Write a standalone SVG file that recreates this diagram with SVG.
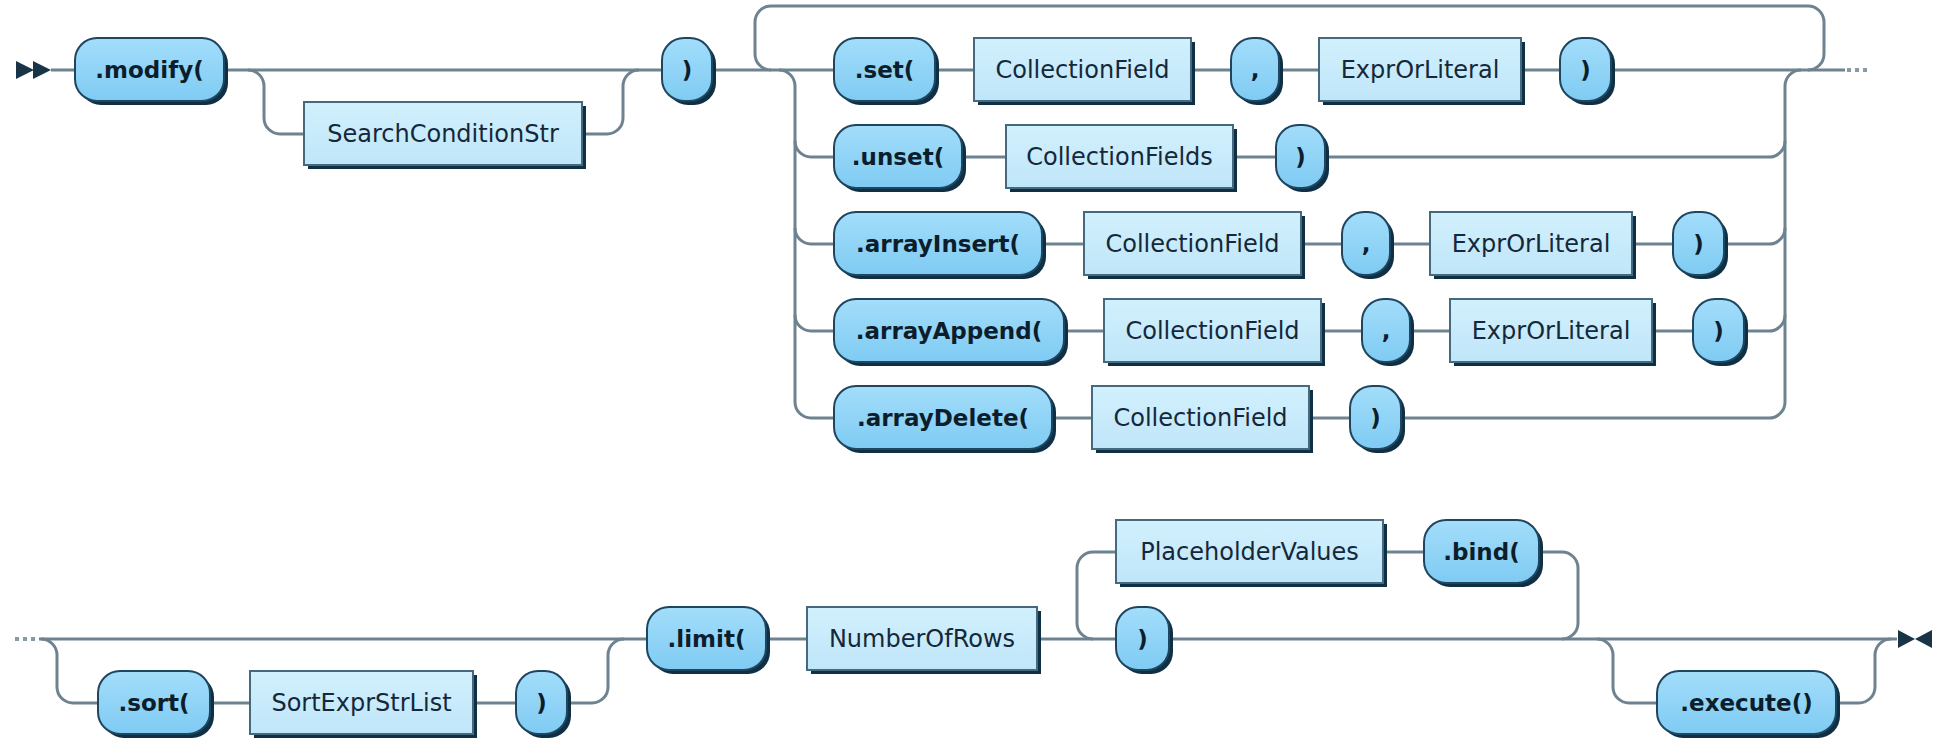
<svg xmlns="http://www.w3.org/2000/svg" width="1934" height="741" viewBox="0 0 1934 741">
<defs>
<linearGradient id="tg" x1="0" y1="0" x2="0" y2="1">
<stop offset="0" stop-color="#A3DDFA"/>
<stop offset="1" stop-color="#7FCBF3"/>
</linearGradient>
<linearGradient id="ng" x1="0" y1="0" x2="0" y2="1">
<stop offset="0" stop-color="#D2F0FD"/>
<stop offset="1" stop-color="#BFE6F9"/>
</linearGradient>
</defs>
<style>
.c{fill:none;stroke:#6D838F;stroke-width:3}
.ts{fill:#0F2F45}
.t{fill:url(#tg);stroke:#1E4660;stroke-width:2}
.n{fill:url(#ng);stroke:#45697D;stroke-width:2}
.tt{font-family:"DejaVu Sans",Verdana,sans-serif;font-size:23px;font-weight:bold;fill:#0C1E2C;text-anchor:middle}
.nt{font-family:"DejaVu Sans",Verdana,sans-serif;font-size:24px;fill:#14283A;text-anchor:middle}
.dot{fill:#8A9AA4}
.mk{fill:#1A3447}
</style>
<g id="connectors">
<path class="c" d="M51,70 H1845"/>
<path class="c" d="M248,70 A16,16 0 0 1 264,86 V118 A16,16 0 0 0 280,134 H607 A16,16 0 0 0 623,118 V86 A16,16 0 0 1 639,70"/>
<path class="c" d="M771,70 A16,16 0 0 1 755,54 V22 A16,16 0 0 1 771,6 H1808 A16,16 0 0 1 1824,22 V54 A16,16 0 0 1 1808,70"/>
<path class="c" d="M779,70 A16,16 0 0 1 795,86 V402 A16,16 0 0 0 811,418 H1769 A16,16 0 0 0 1785,402 V86 A16,16 0 0 1 1801,70"/>
<path class="c" d="M795,141 A16,16 0 0 0 811,157 H1769 A16,16 0 0 0 1785,141"/>
<path class="c" d="M795,228 A16,16 0 0 0 811,244 H1769 A16,16 0 0 0 1785,228"/>
<path class="c" d="M795,315 A16,16 0 0 0 811,331 H1769 A16,16 0 0 0 1785,315"/>
<path class="c" d="M39,639 H1897"/>
<path class="c" d="M41,639 A16,16 0 0 1 57,655 V687 A16,16 0 0 0 73,703 H592 A16,16 0 0 0 608,687 V655 A16,16 0 0 1 624,639"/>
<path class="c" d="M1093,639 A16,16 0 0 1 1077,623 V568 A16,16 0 0 1 1093,552 H1562 A16,16 0 0 1 1578,568 V623 A16,16 0 0 1 1562,639"/>
<path class="c" d="M1597,639 A16,16 0 0 1 1613,655 V687 A16,16 0 0 0 1629,703 H1859 A16,16 0 0 0 1875,687 V655 A16,16 0 0 1 1891,639"/>
<rect class="dot" x="1847" y="68" width="4" height="4"/>
<rect class="dot" x="1855" y="68" width="4" height="4"/>
<rect class="dot" x="1863" y="68" width="4" height="4"/>
<rect class="dot" x="15" y="637" width="4" height="4"/>
<rect class="dot" x="23" y="637" width="4" height="4"/>
<rect class="dot" x="31" y="637" width="4" height="4"/>
</g>
<g id="start"><polygon class="mk" points="16,61 34,70 16,79"/><polygon class="mk" points="33,61 51,70 33,79"/></g>
<g id="end"><polygon class="mk" points="1898,630 1915,639 1898,648"/><polygon class="mk" points="1932,630 1915,639 1932,648"/></g>

<g id="modify"><rect class="ts" x="79" y="42" width="149" height="63" rx="22"/><rect class="t" x="75" y="38" width="149" height="63" rx="22"/><text class="tt" x="149.5" y="78">.modify(</text></g>
<g id="searchcond"><rect class="ts" x="308" y="106" width="278" height="63"/><rect class="n" x="304" y="102" width="278" height="63"/><text class="nt" x="443" y="142">SearchConditionStr</text></g>
<g id="close1"><rect class="ts" x="666" y="42" width="50" height="63" rx="22"/><rect class="t" x="662" y="38" width="50" height="63" rx="22"/><text class="tt" x="687" y="78">)</text></g>

<g id="set"><rect class="ts" x="838" y="42" width="101" height="63" rx="22"/><rect class="t" x="834" y="38" width="101" height="63" rx="22"/><text class="tt" x="884.5" y="78">.set(</text></g>
<g id="set-field"><rect class="ts" x="978" y="42" width="217" height="63"/><rect class="n" x="974" y="38" width="217" height="63"/><text class="nt" x="1082.5" y="78">CollectionField</text></g>
<g id="set-comma"><rect class="ts" x="1235" y="42" width="48" height="63" rx="22"/><rect class="t" x="1231" y="38" width="48" height="63" rx="22"/><text class="tt" x="1255" y="78">,</text></g>
<g id="set-expr"><rect class="ts" x="1323" y="42" width="202" height="63"/><rect class="n" x="1319" y="38" width="202" height="63"/><text class="nt" x="1420" y="78">ExprOrLiteral</text></g>
<g id="set-close"><rect class="ts" x="1564" y="42" width="51" height="63" rx="22"/><rect class="t" x="1560" y="38" width="51" height="63" rx="22"/><text class="tt" x="1585.5" y="78">)</text></g>

<g id="unset"><rect class="ts" x="838" y="129" width="128" height="63" rx="22"/><rect class="t" x="834" y="125" width="128" height="63" rx="22"/><text class="tt" x="898" y="165">.unset(</text></g>
<g id="unset-fields"><rect class="ts" x="1010" y="129" width="227" height="63"/><rect class="n" x="1006" y="125" width="227" height="63"/><text class="nt" x="1119.5" y="165">CollectionFields</text></g>
<g id="unset-close"><rect class="ts" x="1280" y="129" width="49" height="63" rx="22"/><rect class="t" x="1276" y="125" width="49" height="63" rx="22"/><text class="tt" x="1300.5" y="165">)</text></g>

<g id="arrayinsert"><rect class="ts" x="838" y="216" width="208" height="63" rx="22"/><rect class="t" x="834" y="212" width="208" height="63" rx="22"/><text class="tt" x="938" y="252">.arrayInsert(</text></g>
<g id="ins-field"><rect class="ts" x="1088" y="216" width="217" height="63"/><rect class="n" x="1084" y="212" width="217" height="63"/><text class="nt" x="1192.5" y="252">CollectionField</text></g>
<g id="ins-comma"><rect class="ts" x="1346" y="216" width="48" height="63" rx="22"/><rect class="t" x="1342" y="212" width="48" height="63" rx="22"/><text class="tt" x="1366" y="252">,</text></g>
<g id="ins-expr"><rect class="ts" x="1434" y="216" width="202" height="63"/><rect class="n" x="1430" y="212" width="202" height="63"/><text class="nt" x="1531" y="252">ExprOrLiteral</text></g>
<g id="ins-close"><rect class="ts" x="1677" y="216" width="51" height="63" rx="22"/><rect class="t" x="1673" y="212" width="51" height="63" rx="22"/><text class="tt" x="1698.5" y="252">)</text></g>

<g id="arrayappend"><rect class="ts" x="838" y="303" width="230" height="63" rx="22"/><rect class="t" x="834" y="299" width="230" height="63" rx="22"/><text class="tt" x="949" y="339">.arrayAppend(</text></g>
<g id="app-field"><rect class="ts" x="1108" y="303" width="217" height="63"/><rect class="n" x="1104" y="299" width="217" height="63"/><text class="nt" x="1212.5" y="339">CollectionField</text></g>
<g id="app-comma"><rect class="ts" x="1366" y="303" width="48" height="63" rx="22"/><rect class="t" x="1362" y="299" width="48" height="63" rx="22"/><text class="tt" x="1386" y="339">,</text></g>
<g id="app-expr"><rect class="ts" x="1454" y="303" width="202" height="63"/><rect class="n" x="1450" y="299" width="202" height="63"/><text class="nt" x="1551" y="339">ExprOrLiteral</text></g>
<g id="app-close"><rect class="ts" x="1697" y="303" width="51" height="63" rx="22"/><rect class="t" x="1693" y="299" width="51" height="63" rx="22"/><text class="tt" x="1718.5" y="339">)</text></g>

<g id="arraydelete"><rect class="ts" x="838" y="390" width="218" height="63" rx="22"/><rect class="t" x="834" y="386" width="218" height="63" rx="22"/><text class="tt" x="943" y="426">.arrayDelete(</text></g>
<g id="del-field"><rect class="ts" x="1096" y="390" width="217" height="63"/><rect class="n" x="1092" y="386" width="217" height="63"/><text class="nt" x="1200.5" y="426">CollectionField</text></g>
<g id="del-close"><rect class="ts" x="1354" y="390" width="51" height="63" rx="22"/><rect class="t" x="1350" y="386" width="51" height="63" rx="22"/><text class="tt" x="1375.5" y="426">)</text></g>

<g id="sort"><rect class="ts" x="102" y="675" width="112" height="63" rx="22"/><rect class="t" x="98" y="671" width="112" height="63" rx="22"/><text class="tt" x="154" y="711">.sort(</text></g>
<g id="sortlist"><rect class="ts" x="254" y="675" width="223" height="63"/><rect class="n" x="250" y="671" width="223" height="63"/><text class="nt" x="361.5" y="711">SortExprStrList</text></g>
<g id="sort-close"><rect class="ts" x="520" y="675" width="51" height="63" rx="22"/><rect class="t" x="516" y="671" width="51" height="63" rx="22"/><text class="tt" x="541.5" y="711">)</text></g>

<g id="limit"><rect class="ts" x="651" y="611" width="119" height="63" rx="22"/><rect class="t" x="647" y="607" width="119" height="63" rx="22"/><text class="tt" x="706.5" y="647">.limit(</text></g>
<g id="numrows"><rect class="ts" x="811" y="611" width="230" height="63"/><rect class="n" x="807" y="607" width="230" height="63"/><text class="nt" x="922" y="647">NumberOfRows</text></g>
<g id="placeholders"><rect class="ts" x="1120" y="524" width="267" height="63"/><rect class="n" x="1116" y="520" width="267" height="63"/><text class="nt" x="1249.5" y="560">PlaceholderValues</text></g>
<g id="bind"><rect class="ts" x="1428" y="524" width="115" height="63" rx="22"/><rect class="t" x="1424" y="520" width="115" height="63" rx="22"/><text class="tt" x="1481.5" y="560">.bind(</text></g>
<g id="limit-close"><rect class="ts" x="1120" y="611" width="53" height="63" rx="22"/><rect class="t" x="1116" y="607" width="53" height="63" rx="22"/><text class="tt" x="1142.5" y="647">)</text></g>
<g id="execute"><rect class="ts" x="1661" y="675" width="179" height="63" rx="22"/><rect class="t" x="1657" y="671" width="179" height="63" rx="22"/><text class="tt" x="1746.5" y="711">.execute()</text></g>
</svg>
